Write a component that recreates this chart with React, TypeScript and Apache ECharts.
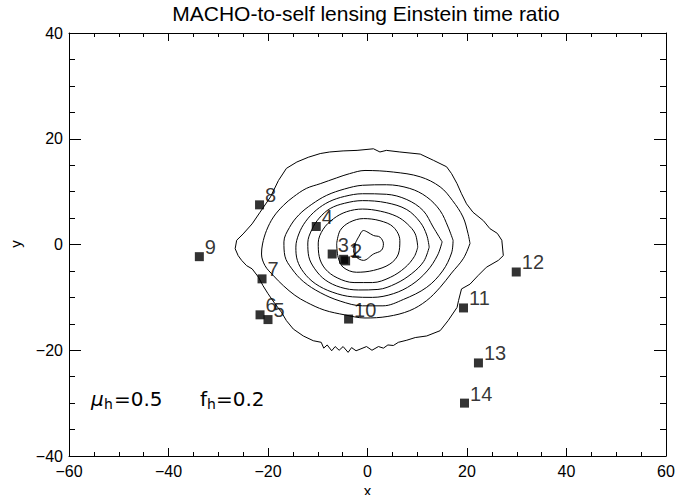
import React, { useEffect, useRef } from "react";
import * as echarts from "echarts";

// ---- scatter points (object numbers and positions) ----
const POINT_LABELS = ["1", "2", "3", "4", "5", "6", "7", "8", "9", "10", "11", "12", "13", "14"];
const POINT_X = [-4.8, -4.4, -7.1, -10.3, -20.0, -21.6, -21.2, -21.7, -33.8, -3.8, 19.3, 29.9, 22.3, 19.5];
const POINT_Y = [-2.8, -3.1, -1.8, 3.4, -14.2, -13.3, -6.5, 7.5, -2.3, -14.1, -12.0, -5.2, -22.4, -30.0];

// ---- contour levels (outermost first) ----
const CONTOUR_1: number[][] = [
  [-26.6, -0.8], [-26.3, 0.8], [-25.0, 2.0], [-23.2, 3.9], [-21.6, 6.1], [-19.5, 9.0], [-17.9, 12.1],
  [-16.3, 14.4], [-14.2, 15.6], [-11.9, 16.5], [-9.5, 17.2], [-7.6, 17.5], [-4.9, 17.7], [-2.1, 17.8],
  [1.2, 18.1], [2.5, 17.5], [3.8, 17.8], [6.5, 17.5], [10.6, 17.1], [13.3, 15.9], [15.9, 14.7],
  [16.9, 13.4], [18.0, 11.5], [18.9, 9.6], [19.9, 7.7], [21.2, 6.1], [23.3, 4.5], [24.6, 3.0],
  [26.1, 2.1], [27.0, 0.8], [27.3, -2.1], [26.3, -3.0], [23.9, -4.3], [22.2, -5.9], [20.6, -7.5],
  [18.9, -8.4], [18.3, -10.6], [18.0, -11.9], [16.2, -14.4], [14.6, -16.3], [11.9, -17.3], [9.6, -17.6],
  [7.9, -18.1], [6.2, -18.5], [5.2, -19.1], [4.1, -19.0], [3.2, -19.6], [2.2, -19.3], [0.9, -20.0],
  [-0.2, -19.3], [-1.5, -19.8], [-2.3, -20.1], [-3.2, -19.5], [-3.9, -20.4], [-4.9, -19.3], [-5.7, -20.0],
  [-6.5, -19.3], [-7.2, -20.1], [-8.1, -19.0], [-8.8, -19.6], [-9.3, -18.5], [-10.9, -18.2], [-12.9, -17.3],
  [-14.9, -16.0], [-16.3, -14.4], [-17.3, -12.8], [-18.6, -11.2], [-20.0, -9.3], [-21.0, -7.8], [-21.9, -6.2],
  [-23.2, -4.6], [-24.3, -4.0], [-25.3, -3.0], [-26.0, -2.1], [-26.6, -0.8],
];
const CONTOUR_2: number[][] = [
  [20.6, 0.2], [20.2, 2.1], [19.2, 5.2], [17.1, 8.3], [14.6, 10.9], [10.6, 12.8], [5.2, 13.7], [-0.5, 14.0],
  [-3.6, 13.4], [-6.2, 12.6], [-9.5, 11.5], [-12.3, 10.6], [-14.9, 9.0], [-16.9, 7.4], [-18.9, 5.2],
  [-20.3, 2.65], [-21.1, 0.1], [-21.3, -1.8], [-20.6, -4.0], [-18.9, -5.9], [-16.9, -7.8], [-14.6, -9.6],
  [-12.3, -10.9], [-8.7, -12.4], [-4.6, -13.3], [-0.5, -13.9], [4.1, -13.6], [8.5, -12.5], [11.9, -10.6],
  [14.6, -8.1], [16.9, -5.4], [19.3, -2.6], [20.6, 0.2],
];
const CONTOUR_3: number[][] = [
  [17.2, 0.8], [16.2, 3.3], [14.6, 6.4], [11.9, 9.0], [8.5, 10.6], [3.8, 11.3], [-1.0, 11.2], [-4.6, 10.5],
  [-8.2, 9.3], [-11.2, 7.6], [-13.8, 5.6], [-15.7, 3.2], [-16.8, 0.5], [-16.6, -2.2], [-15.2, -4.6],
  [-12.9, -7.0], [-9.5, -9.1], [-5.5, -10.7], [-1.0, -11.6], [3.1, -11.6], [7.2, -10.4], [11.9, -8.1],
  [15.1, -5.0], [16.9, -1.6], [17.2, 0.8],
];
const CONTOUR_4: number[][] = [
  [15.0, 0.5], [13.2, 3.3], [11.2, 6.4], [7.9, 8.5], [3.8, 9.5], [-1.0, 9.6], [-4.6, 9.1], [-7.7, 8.1],
  [-10.3, 6.5], [-12.4, 4.4], [-13.8, 2.0], [-14.4, -0.5], [-14.1, -3.0], [-12.8, -5.3], [-10.5, -7.4],
  [-7.1, -9.0], [-3.0, -9.9], [1.0, -10.0], [5.2, -9.3], [8.9, -7.6], [12.0, -5.0], [14.1, -2.0], [15.0, 0.5],
];
const CONTOUR_5: number[][] = [
  [12.4, -0.5], [11.9, 1.8], [10.6, 4.2], [7.9, 6.6], [3.8, 7.9], [-1.0, 8.3], [-4.6, 7.8], [-7.5, 6.8],
  [-9.7, 5.0], [-11.2, 2.8], [-12.0, 0.3], [-11.8, -2.3], [-10.6, -4.6], [-8.5, -6.7], [-5.4, -8.1],
  [-1.8, -8.6], [2.1, -8.5], [5.7, -7.4], [8.9, -5.5], [11.3, -3.2], [12.4, -0.5],
];
const CONTOUR_6: number[][] = [
  [10.1, -0.5], [9.6, 2.0], [8.0, 3.9], [5.9, 5.3], [2.6, 6.3], [-1.0, 6.7], [-4.2, 6.2], [-6.8, 4.9],
  [-8.9, 2.9], [-9.9, 0.3], [-9.7, -2.3], [-8.5, -4.6], [-6.1, -6.3], [-2.7, -7.2], [1.0, -7.2],
  [4.6, -6.2], [7.5, -4.4], [9.4, -2.3], [10.1, -0.5],
];
const CONTOUR_7: number[][] = [
  [-6.2, 0.13], [-5.5, 2.65], [-3.6, 4.2], [-0.8, 4.9], [2.5, 4.5], [5.2, 3.3], [6.5, 0.76], [6.2, -1.8],
  [4.5, -3.7], [1.2, -4.9], [-2.2, -5.25], [-4.9, -4.3], [-5.9, -2.4], [-6.2, 0.13],
];
const CONTOUR_8: number[][] = [
  [-2.5, 0.13], [-1.8, 1.4], [-0.8, 2.65], [0.1, 2.3], [1.2, 1.7], [2.5, 1.4], [3.2, 0.13], [2.8, -1.1],
  [1.2, -1.8], [-0.8, -3.0], [-2.2, -2.4], [-2.8, -1.1], [-2.5, 0.13],
];
const CONTOURS = [CONTOUR_1, CONTOUR_2, CONTOUR_3, CONTOUR_4, CONTOUR_5, CONTOUR_6, CONTOUR_7, CONTOUR_8];

const TITLE = "MACHO-to-self lensing Einstein time ratio";
const FONT = '"Liberation Sans", Arial, sans-serif';
const ANNOT_FONT = '"DejaVu Sans", sans-serif';

function tickFmt(v: number) {
  return v < 0 ? "\u2212" + Math.abs(v) : String(v);
}

export default function App() {
  const ref = useRef<HTMLDivElement>(null);
  useEffect(() => {
    if (!ref.current) return;
    document.body.style.margin = "0";
    const chart = echarts.init(ref.current, null, { renderer: "svg" });

    const axisBase = (vertical: boolean) => ({
      type: "value" as const,
      min: vertical ? -40 : -60,
      max: vertical ? 40 : 60,
      interval: 20,
      axisLine: { show: true, onZero: false, lineStyle: { color: "#000", width: 1 } },
      axisTick: { show: true, inside: true, length: vertical ? 12 : 8, lineStyle: { color: "#000", width: 1 } },
      minorTick: { show: true, splitNumber: 4, length: vertical ? 6 : 4, lineStyle: { color: "#000", width: 1 } },
      splitLine: { show: false },
      minorSplitLine: { show: false },
    });

    const labelStyle = { color: "#000", fontSize: 16, fontFamily: FONT, formatter: tickFmt };

    const contourSeries = CONTOURS.map((c, i) => ({
      type: "line" as const,
      data: c,
      showSymbol: false,
      symbol: "none",
      smooth: i === 0 ? false : 0.35,
      lineStyle: { color: "#000", width: 1 },
      silent: true,
      z: 2,
    }));

    const txt = (x: number, y: number, text: string, font: string, extra: any = {}) => ({
      type: "text",
      x,
      y,
      ...extra,
      style: { text, font, fill: "#000", verticalAlign: "middle", textVerticalAlign: "middle", ...(extra.style || {}) },
    });

    chart.setOption({
      animation: false,
      backgroundColor: "#fff",
      grid: { left: 69, right: 25, top: 33, bottom: 39, outerBoundsMode: "none" },
      xAxis: [
        { ...axisBase(false), position: "bottom", axisLabel: { ...labelStyle, margin: 7 } },
        { ...axisBase(false), position: "top", axisLabel: { show: false } },
      ],
      yAxis: [
        { ...axisBase(true), position: "left", axisLabel: { ...labelStyle, margin: 6 } },
        { ...axisBase(true), position: "right", axisLabel: { show: false } },
      ],
      series: [
        ...contourSeries,
        {
          type: "scatter",
          symbol: "rect",
          symbolSize: 9,
          itemStyle: { color: "#000" },
          z: 5,
          data: POINT_X.map((x, i) => ({ value: [x, POINT_Y[i]], name: POINT_LABELS[i] })),
          label: {
            show: true,
            formatter: (p: any) => p.name,
            position: [10, -5],
            align: "left",
            verticalAlign: "middle",
            color: "#000",
            fontSize: 20,
            fontFamily: FONT,
          },
        },
      ],
      graphic: [
        txt(366, 13, TITLE, `21px ${FONT}`, { style: { align: "center", textAlign: "center" } }),
        txt(15, 244, "y", `15px ${FONT}`, { rotation: Math.PI / 2, style: { align: "center", textAlign: "center" } }),
        txt(367.5, 490, "x", `15px ${FONT}`, { style: { align: "center", textAlign: "center" } }),
        txt(91, 398.5, "\u03bc", `italic 20px ${ANNOT_FONT}`),
        txt(104, 404, "h", `14px ${ANNOT_FONT}`),
        txt(114, 398.5, "=0.5", `20px ${ANNOT_FONT}`),
        txt(200, 398.5, "f", `20px ${ANNOT_FONT}`),
        txt(207, 404, "h", `14px ${ANNOT_FONT}`),
        txt(216, 398.5, "=0.2", `20px ${ANNOT_FONT}`),
      ],
    });
    return () => chart.dispose();
  }, []);
  return <div ref={ref} style={{ position: "fixed", left: 0, top: 0, width: 691, height: 495 }} />;
}
